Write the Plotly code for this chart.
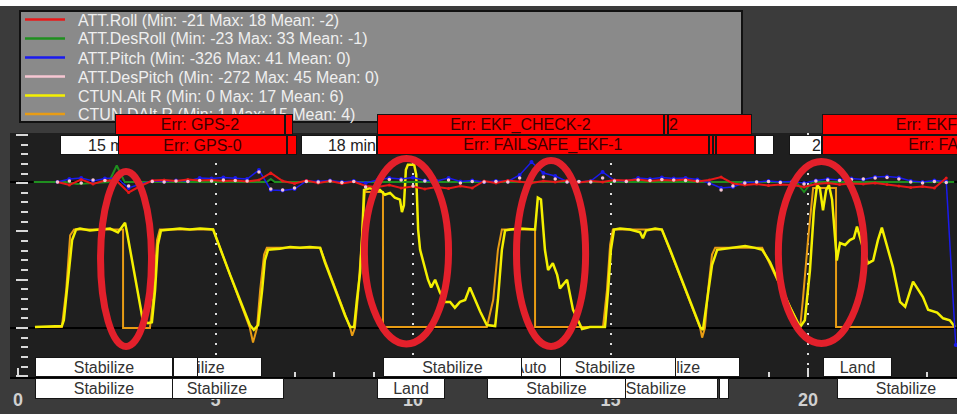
import plotly.graph_objects as go

# ------------------------------------------------------------------ data
# CTUN.Alt R (yellow) : time [min], altitude
alt_time = [0.43, 1.11, 1.16, 1.27, 1.37, 1.47, 1.57, 1.82, 2.08, 2.33,
            2.53, 2.63, 2.71, 2.76, 2.84, 2.96, 3.09, 3.16, 3.29, 3.39,
            3.47, 3.54, 3.62, 3.85, 4.10, 4.35, 4.61, 4.94, 5.11, 5.37,
            5.62, 5.87, 5.97, 6.08, 6.18, 6.25, 6.33, 6.63, 6.89, 7.14,
            7.39, 7.65, 7.77, 8.03, 8.28, 8.41, 8.51, 8.58, 8.66, 8.71,
            8.76, 8.91, 9.04, 9.16, 9.29, 9.42, 9.54, 9.67, 9.72, 9.77,
            9.82, 9.87, 10.03, 10.08, 10.13, 10.18, 10.28, 10.38, 10.46, 10.56,
            10.68, 10.81, 10.94, 11.06, 11.19, 11.32, 11.44, 11.57, 11.70, 11.87,
            12.08, 12.15, 12.25, 12.33, 12.46, 12.71, 12.96, 13.09, 13.16, 13.24,
            13.34, 13.42, 13.54, 13.65, 13.72, 13.90, 14.05, 14.28, 14.48, 14.86,
            14.94, 15.01, 15.09, 15.24, 15.49, 15.75, 15.82, 15.90, 16.13, 16.30,
            16.51, 16.76, 17.01, 17.27, 17.34, 17.44, 17.57, 17.70, 17.90, 18.15,
            18.41, 18.66, 18.84, 19.04, 19.29, 19.54, 19.80, 19.92, 20.05, 20.15,
            20.23, 20.30, 20.38, 20.46, 20.53, 20.61, 20.73, 20.81, 20.94, 21.06,
            21.16, 21.24, 21.37, 21.52, 21.65, 21.77, 21.87, 21.95, 22.15, 22.33,
            22.46, 22.66, 22.91, 23.04, 23.27, 23.42, 23.59, 23.72]
alt_r = [0.1, 0.2, 0.8, 5.0, 9.1, 10.2, 10.3, 10.1, 10.2, 10.3,
         9.9, 10.4, 10.9, 9.9, 8.1, 5.5, 2.4, 0.8, 0.5, 0.6,
         3.9, 8.6, 10.1, 10.2, 10.3, 10.2, 10.3, 10.2, 8.3, 5.5,
         2.9, 0.3, -0.2, 0.3, 3.9, 7.0, 8.1, 8.2, 8.4, 8.3,
         8.4, 8.3, 6.8, 3.9, 1.3, 0.1, 0.1, 2.9, 5.7, 9.1,
         14.3, 14.5, 14.2, 14.3, 13.8, 14.0, 13.5, 13.3, 12.0, 12.7,
         16.4, 16.9, 16.9, 15.9, 10.2, 8.1, 6.5, 5.0, 4.2, 5.0,
         3.7, 2.7, 2.7, 2.1, 2.7, 2.9, 4.2, 2.9, 1.7, 0.3,
         0.2, 2.9, 8.1, 10.1, 10.2, 10.3, 10.2, 10.2, 13.5, 13.3,
         8.1, 6.0, 6.7, 5.5, 4.1, 5.0, 1.9, -0.1, 0.1, 0.1,
         3.9, 8.1, 10.2, 10.3, 10.2, 9.9, 9.3, 10.1, 10.3, 10.2,
         8.1, 5.5, 2.9, 0.1, -0.2, 2.9, 6.5, 8.1, 8.2, 8.4,
         8.5, 8.3, 8.1, 6.8, 4.5, 2.2, 0.1, 0.8, 6.0, 12.2,
         14.8, 14.5, 12.2, 14.3, 14.8, 13.3, 7.0, 8.8, 8.6, 9.1,
         9.3, 10.5, 8.6, 6.7, 7.0, 9.1, 10.4, 9.3, 6.3, 2.7,
         2.2, 4.8, 3.2, 1.9, 1.6, 1.0, 0.8, 0.1]

# CTUN.DAlt R (orange)
dalt_time = [0.43, 1.11, 1.22, 1.32, 1.42, 2.66, 2.66, 3.34, 3.42, 3.52,
             3.59, 4.94, 5.87, 5.95, 6.05, 6.13, 6.23, 6.30, 7.65, 8.41,
             8.46, 8.53, 8.61, 8.71, 8.78, 9.24, 9.24, 11.87, 12.03, 12.15,
             12.25, 13.09, 13.09, 14.81, 14.91, 14.99, 15.06, 16.30, 17.27, 17.32,
             17.39, 17.47, 17.57, 17.65, 18.84, 19.80, 19.87, 20.00, 20.13, 20.71,
             20.71, 23.72]
dalt_r = [0.1, 0.1, 3.9, 9.6, 10.2, 10.2, 0.0, 0.0, 2.9, 9.1,
          10.2, 10.2, 0.0, -1.5, 0.0, 3.9, 7.6, 8.3, 8.3, 0.0,
          -0.8, 0.0, 3.4, 9.1, 14.1, 14.1, 0.1, 0.1, 2.9, 8.1,
          10.2, 10.2, 0.1, 0.1, 3.9, 8.6, 10.2, 10.2, 0.0, -1.0,
          0.0, 3.9, 7.6, 8.3, 8.3, 0.0, 2.9, 9.1, 14.5, 14.5,
          0.1, 0.1]

# ATT series (degrees)
att_time = [1.0, 1.3, 1.6, 1.9, 2.2, 2.5, 2.8, 3.1, 3.4, 3.7,
            4.0, 4.3, 4.6, 4.9, 5.2, 5.5, 5.8, 6.1, 6.4, 6.7,
            7.0, 7.3, 7.6, 7.9, 8.2, 8.5, 8.8, 9.1, 9.4, 9.7,
            10.0, 10.3, 10.6, 10.9, 11.2, 11.5, 11.8, 12.1, 12.4, 12.7,
            13.0, 13.3, 13.6, 13.9, 14.2, 14.5, 14.8, 15.1, 15.4, 15.7,
            16.0, 16.3, 16.6, 16.9, 17.2, 17.5, 17.8, 18.1, 18.4, 18.7,
            19.0, 19.3, 19.6, 19.9, 20.2, 20.5, 20.8, 21.1, 21.4, 21.7,
            22.0, 22.3, 22.6, 22.9, 23.2, 23.5]
att_roll = [0, -6, 5, -4, 3, 2, -21, -8, 3, 4,
            2, 5, 3, 4, 2, 3, 1, 4, 18, 2,
            -3, 3, -2, 2, -3, 1, -8, -10, -6, -12,
            -9, -14, -10, -13, -8, -12, 2, -2, 3, 1,
            -2, 2, 0, 3, -1, 2, 0, 4, 3, 5,
            2, 4, 3, 5, 1, 4, 10, -3, -6, -4,
            -7, -5, -6, -10, -4, -2, -5, -3, -4, -2,
            -5, -8, -11, -9, -12, 8]
pitch_time = att_time + [23.74]
att_pitch = [0, 6, 8, 2, 7, 8, -12, -4, 2, 1,
             3, 2, 8, 7, 9, 8, 6, 24, -16, -17,
             -14, 2, 1, 3, 0, 2, -2, 4, 8, 6,
             9, 3, 2, 8, 1, 3, 0, 2, 1, 14,
             40, 18, 12, 1, 0, 2, 20, 3, 2, 8,
             6, 9, 7, 8, 5, -2, -12, -10, -1, 0,
             2, 0, 1, -2, 3, 6, 4, 7, 5, 10,
             11, 9, 2, 0, 3, 1, -326]
att_des_pitch = [0, 2, -2, 4, 3, 5, -8, -2, 1, 0,
                 2, 1, 3, 2, 4, 3, 2, 20, -14, -16,
                 -12, 1, 0, 2, -1, 1, -10, -6, 5, 4,
                 -8, 2, -6, 4, -2, 1, 0, 1, 0, 8,
                 12, 10, 6, 0, 1, 0, 8, 2, 1, 4,
                 3, 5, 4, 3, 2, -4, -16, -8, -2, 0,
                 1, -1, 0, -4, 2, 4, 3, 5, 6, 8,
                 9, 6, 0, -2, 1, -1]
des_roll_time = [0.4, 1.2, 1.5, 2.3, 2.5, 2.7, 6.3, 6.4, 6.5, 19.7, 19.9, 20.1, 23.7]
att_des_roll = [0, 0, -4, 0, 33, 0, 0, 6, 0, 0, -20, 0, 0]

legend_labels = [
    "ATT.Roll (Min: -21 Max: 18 Mean: -2)",
    "ATT.DesRoll (Min: -23 Max: 33 Mean: -1)",
    "ATT.Pitch (Min: -326 Max: 41 Mean: 0)",
    "ATT.DesPitch (Min: -272 Max: 45 Mean: 0)",
    "CTUN.Alt R (Min: 0 Max: 17 Mean: 6)",
    "CTUN.DAlt R (Min: 1 Max: 15 Mean: 4)",
]
x_tick_vals = [0, 5, 10, 15, 20]
x_tick_text = ["0", "5", "10", "15", "20"]

# event label boxes: (start min, end min, kind, text, align)
err_row_top = [
    (2.456, 6.759, "err", "Err: GPS-2", None),
    (6.759, 6.962, "err", "", None),
    (9.089, 16.354, "err", "Err: EKF_CHECK-2", None),
    (16.354, 16.456, "err", "", None),
    (16.456, 18.582, "err", "2", "left"),
    (20.354, 27.646, "err", "Err: EKF_CHECK-2", None),
]
err_row_bottom = [
    (1.063, 3.013, "time", "15 min", None),
    (2.532, 6.810, "err", "Err: GPS-0", None),
    (6.810, 7.063, "err", "", None),
    (7.165, 9.089, "time", "18 min", None),
    (9.089, 17.494, "err", "Err: FAILSAFE_EKF-1", None),
    (17.494, 17.595, "err", "", None),
    (17.595, 17.671, "err", "", None),
    (17.671, 18.658, "err", "", None),
    (18.658, 19.139, "time", "", None),
    (19.519, 20.354, "time", "2", None),
    (20.354, 28.759, "err", "Err: FAILSAFE_EKF-1", None),
]
mode_row_top = [
    (2.759, 6.177, "mode", "Stabilize", None),
    (3.924, 4.557, "mode", "", None),
    (0.430, 3.924, "mode", "Stabilize", None),
    (14.734, 18.278, "mode", "Stabilize", None),
    (13.063, 16.658, "mode", "Stabilize", None),
    (12.177, 13.747, "mode", "Auto", None),
    (9.241, 12.759, "mode", "Stabilize", None),
    (20.380, 22.127, "mode", "Land", None),
]
mode_row_bottom = [
    (3.342, 6.734, "mode", "Stabilize", None),
    (0.430, 3.924, "mode", "Stabilize", None),
    (9.089, 10.810, "mode", "Land", None),
    (17.747, 18.000, "mode", "", None),
    (14.582, 17.722, "mode", "Stabilize", None),
    (11.873, 15.392, "mode", "Stabilize", None),
    (20.734, 24.228, "mode", "Stabilize", None),
]

# highlighted regions (red ellipses), data coords: x0, x1, y0, y1
highlights = [
    (2.09, 3.38, -1.92, 16.22),
    (8.77, 10.90, -1.66, 17.56),
    (12.62, 14.37, -1.92, 17.36),
    (19.25, 21.43, -1.61, 17.25),
]

# ------------------------------------------------------------------ layout
FIG_W, FIG_H = 957, 414
M_L, M_R, M_T, M_B = 10, 0, 133, 37
PLOT_W = FIG_W - M_L - M_R
PLOT_H = FIG_H - M_T - M_B
X_RANGE = [-0.2025, 23.7722]
PX_PER_MIN = PLOT_W / (X_RANGE[1] - X_RANGE[0])
FONT = "Liberation Sans, Arial, sans-serif"


def pyp(py):
    return (FIG_H - M_B - py) / PLOT_H


def pxp(px):
    return (px - M_L) / PLOT_W


COL_ROLL = "#e81818"
COL_DESROLL = "#1f8f1f"
COL_PITCH = "#1a1aee"
COL_DESPITCH = "#f6c6d2"
COL_ALT = "#f4f000"
COL_DALT = "#e89c14"
legend_colors = [COL_ROLL, COL_DESROLL, COL_PITCH, COL_DESPITCH, COL_ALT, COL_DALT]

fig = go.Figure()
fig.add_trace(go.Scatter(x=dalt_time, y=dalt_r, name=legend_labels[5], mode="lines",
                         line=dict(color=COL_DALT, width=2), yaxis="y"))
fig.add_trace(go.Scatter(x=alt_time, y=alt_r, name=legend_labels[4], mode="lines",
                         line=dict(color=COL_ALT, width=2.5), yaxis="y"))
fig.add_trace(go.Scatter(x=des_roll_time, y=att_des_roll, name=legend_labels[1], mode="lines",
                         line=dict(color=COL_DESROLL, width=2), yaxis="y2"))
fig.add_trace(go.Scatter(x=pitch_time, y=att_pitch, name=legend_labels[2], mode="lines+markers",
                         line=dict(color=COL_PITCH, width=1.5), marker=dict(size=4, color=COL_PITCH),
                         yaxis="y2"))
fig.add_trace(go.Scatter(x=att_time, y=att_roll, name=legend_labels[0], mode="lines+markers",
                         line=dict(color=COL_ROLL, width=2), marker=dict(size=3, color=COL_ROLL),
                         yaxis="y2"))
fig.add_trace(go.Scatter(x=att_time, y=att_des_pitch, name=legend_labels[3], mode="markers",
                         marker=dict(size=3.5, color=COL_DESPITCH), yaxis="y2"))

shapes = []
# white strip at top of the screenshot
shapes.append(dict(type="rect", xref="paper", yref="paper", x0=pxp(0), x1=1.0,
                   y0=pyp(6), y1=pyp(0), fillcolor="white", line=dict(width=0), layer="above"))
# legend panel
shapes.append(dict(type="rect", xref="paper", yref="paper", x0=pxp(20), x1=pxp(742),
                   y0=pyp(122), y1=pyp(11), fillcolor="#8a8a8a",
                   line=dict(color="#111111", width=2), layer="above"))
legend_row_px = [19.5, 38.5, 57.5, 76.5, 95.5, 114]
for col, py in zip(legend_colors, legend_row_px):
    shapes.append(dict(type="line", xref="paper", yref="paper", x0=pxp(25), x1=pxp(65),
                       y0=pyp(py), y1=pyp(py), line=dict(color=col, width=2.5), layer="above"))
# attitude zero reference line
shapes.append(dict(type="line", xref="paper", yref="y2", x0=0, x1=1, y0=0, y1=0,
                   line=dict(color="#000000", width=2), layer="below"))
for x0, x1, y0, y1 in highlights:
    shapes.append(dict(type="circle", xref="x", yref="y", x0=x0, x1=x1, y0=y0, y1=y1,
                       line=dict(color="#e3202b", width=7), layer="above"))

annotations = []
for lab, py in zip(legend_labels, legend_row_px):
    annotations.append(dict(x=pxp(76), y=pyp(py + 0.5), xref="paper", yref="paper",
                            xanchor="left", yanchor="middle", text=lab, showarrow=False,
                            font=dict(family=FONT, size=16, color="#efefef")))

STYLE = {
    "err": dict(bg="#ff0000", fg="#3a0000", align="center"),
    "time": dict(bg="#ffffff", fg="#222222", align="right"),
    "mode": dict(bg="#ffffff", fg="#333333", align="center"),
}
rows = [(err_row_top, 124.5, 21), (err_row_bottom, 145, 20),
        (mode_row_top, 367, 20), (mode_row_bottom, 388.5, 21)]
for entries, cy, h in rows:
    for t0, t1, kind, text, align in entries:
        st = STYLE[kind]
        wpx = max((t1 - t0) * PX_PER_MIN - 2, 1)
        annotations.append(dict(
            x=t0, xref="x", xanchor="left", y=pyp(cy), yref="paper", yanchor="middle",
            text=text if text else " ", showarrow=False, width=wpx, height=h - 2,
            bgcolor=st["bg"], bordercolor="#151515", borderwidth=1, borderpad=0,
            align=align or st["align"], valign="middle",
            font=dict(family=FONT, size=16, color=st["fg"])))

fig.update_layout(
    width=FIG_W, height=FIG_H,
    margin=dict(l=M_L, r=M_R, t=M_T, b=M_B, pad=0),
    paper_bgcolor="#3b3b3b", plot_bgcolor="#1f1f1f",
    showlegend=False,
    font=dict(family=FONT),
    shapes=shapes, annotations=annotations,
    xaxis=dict(range=X_RANGE, tickmode="array", tickvals=x_tick_vals, ticktext=x_tick_text,
               ticks="inside", ticklen=9, tickwidth=2, tickcolor="#d8d8d8",
               minor=dict(dtick=1, tick0=0, ticks="inside", ticklen=5, tickwidth=2,
                          tickcolor="#d8d8d8", showgrid=False),
               showgrid=True, gridcolor="#dcdcdc", gridwidth=2, griddash="2px,8px",
               zeroline=True, zerolinecolor="#1f1f1f", zerolinewidth=1,
               showline=True, linecolor="#000000", linewidth=2,
               tickfont=dict(family=FONT, size=18, color="#d0d0d0", weight="bold"),
               ticklabelstandoff=5, anchor="y"),
    yaxis=dict(range=[-5.08, 20.2], dtick=5, tick0=0, showticklabels=False,
               ticks="outside", ticklen=12, tickwidth=2, tickcolor="#d8d8d8",
               minor=dict(dtick=1, tick0=0, ticks="outside", ticklen=7, tickwidth=2,
                          tickcolor="#d8d8d8", showgrid=False),
               showgrid=False, zeroline=True, zerolinecolor="#000000", zerolinewidth=2,
               showline=False, anchor="free", position=pxp(28)),
    yaxis2=dict(range=[-390, 98], overlaying="y", anchor="x", side="right",
                showticklabels=False, ticks="", showgrid=False, zeroline=False, showline=False),
)

fig.write_html("out.html", config={"displayModeBar": False},
               post_script="document.body.style.margin='0';document.body.style.overflow='hidden';")
